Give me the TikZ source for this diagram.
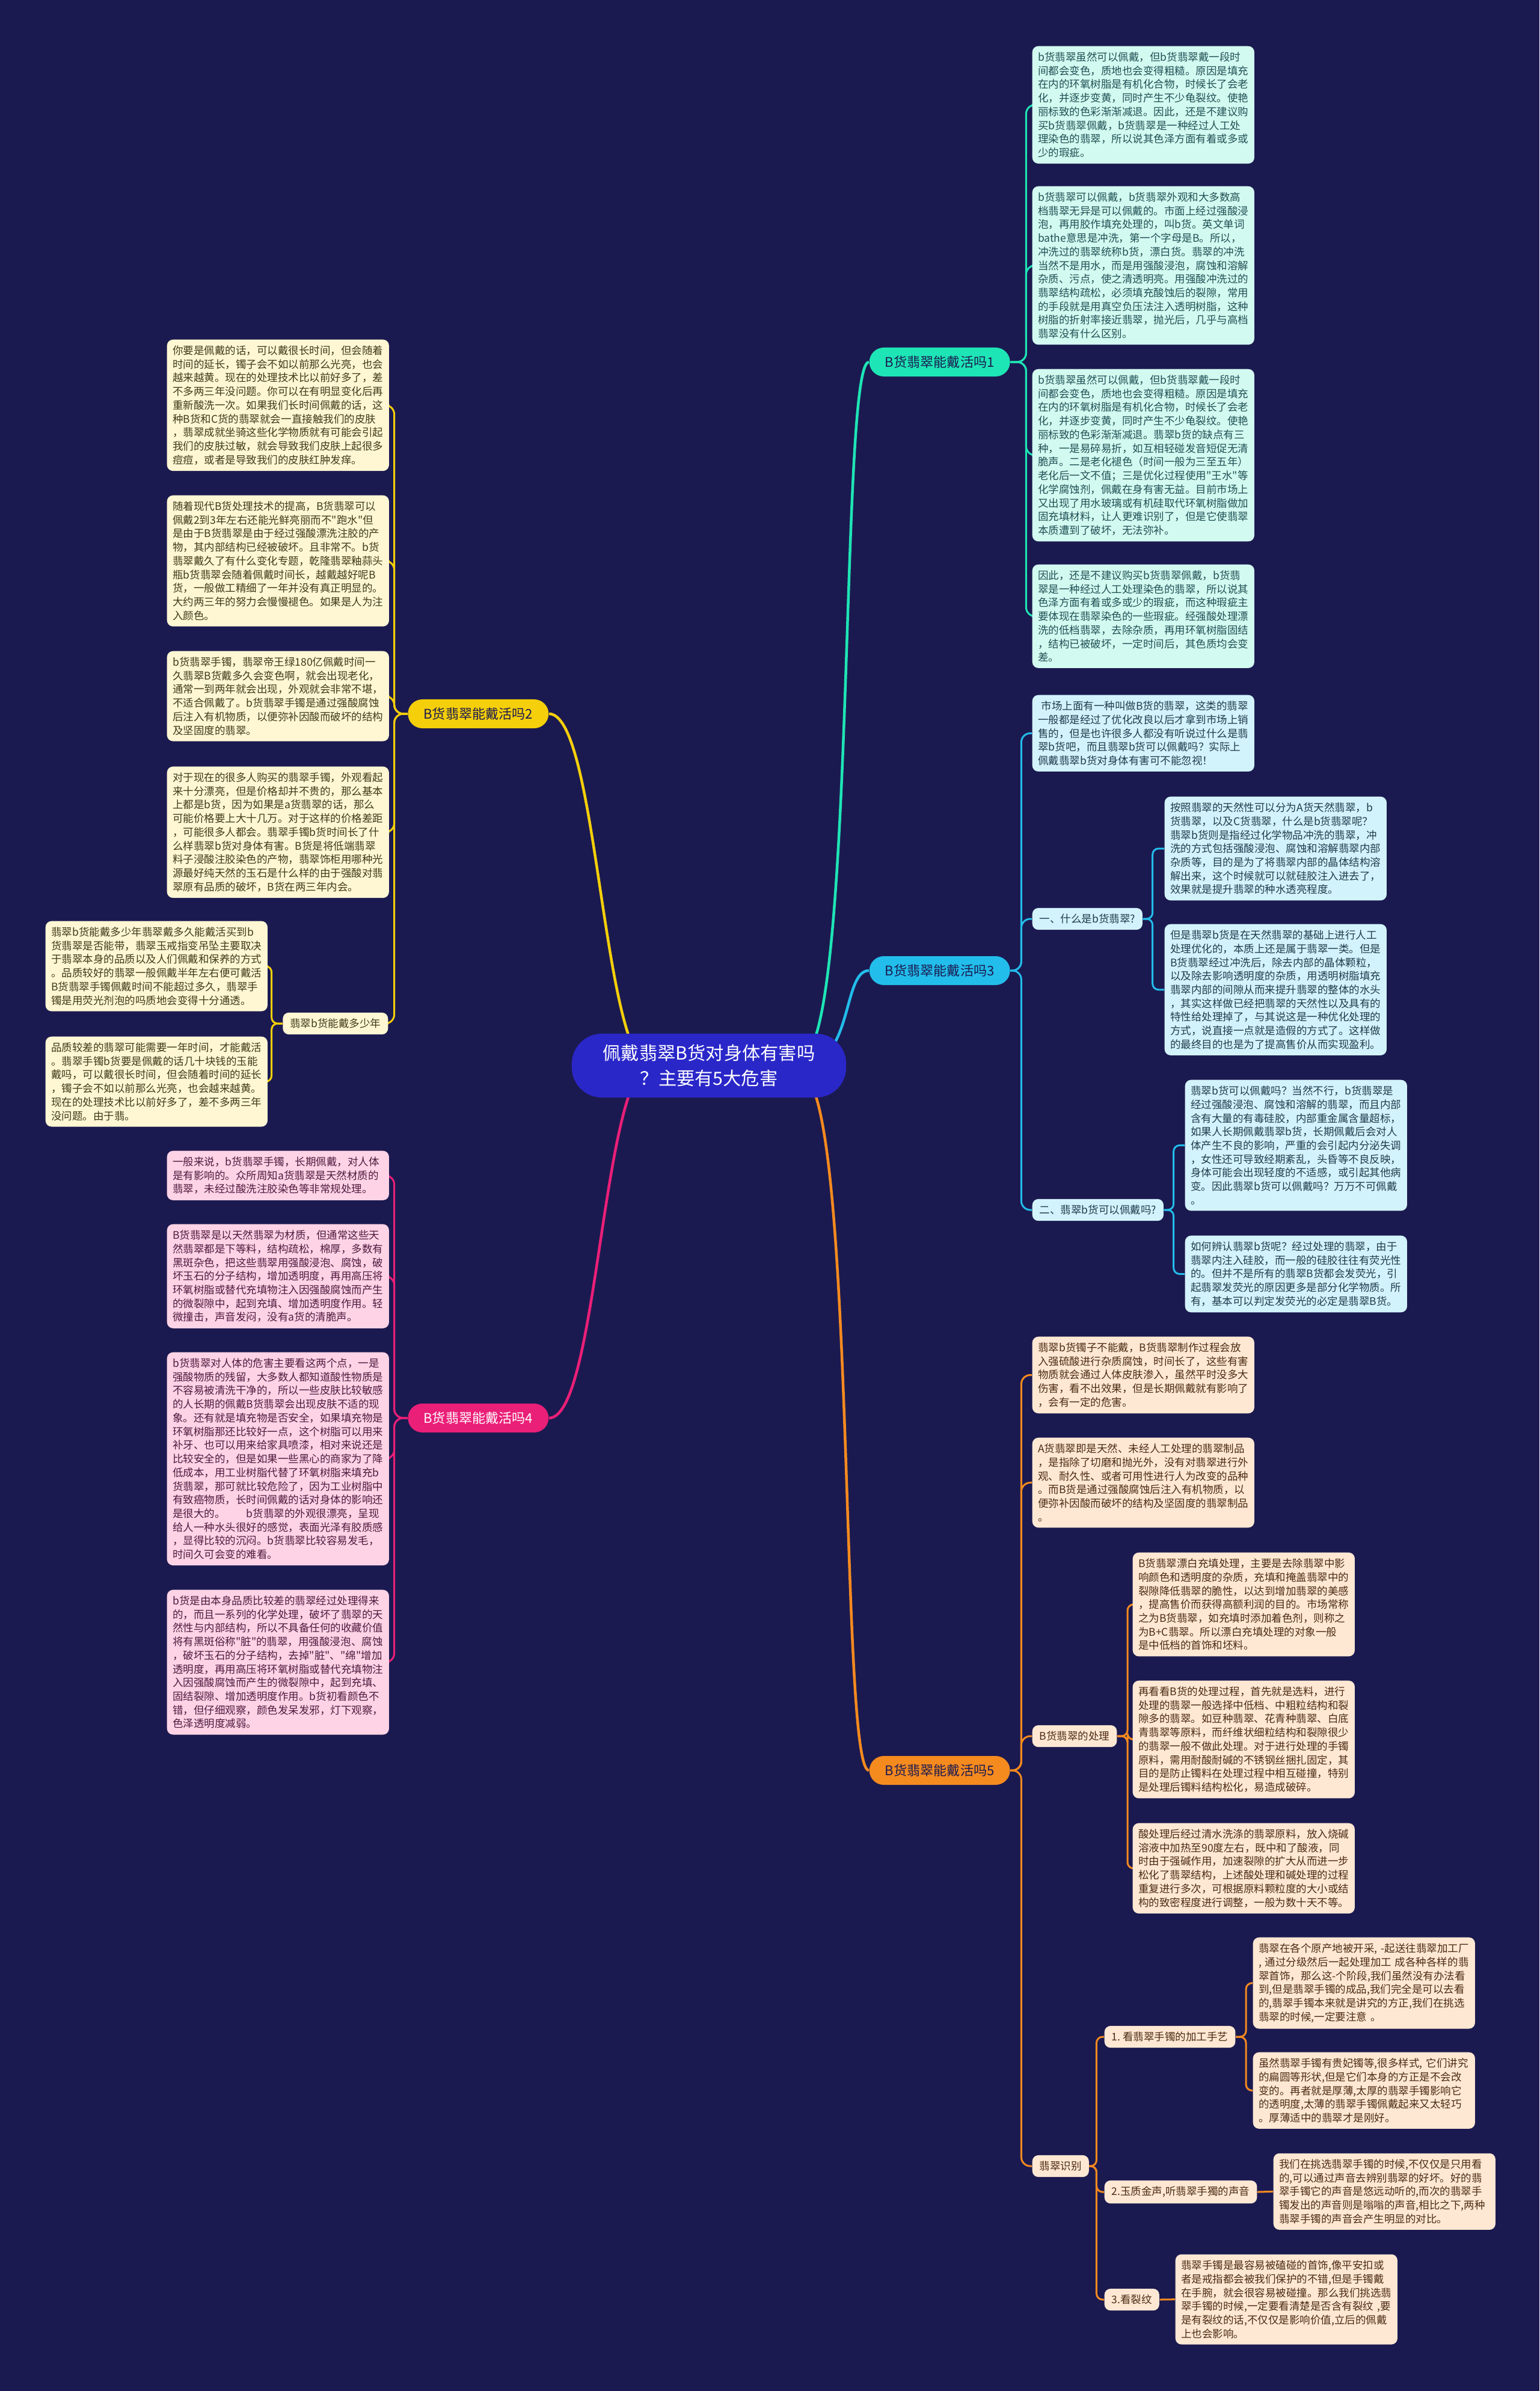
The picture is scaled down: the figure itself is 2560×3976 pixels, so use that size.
\documentclass[tikz,border=0pt]{standalone}
\usepackage{fontspec}
\setmainfont{Noto Sans CJK SC}[Ligatures=TeXOff]
\pgfdeclarelayer{bglayer}
\pgfdeclarelayer{lines}
\pgfsetlayers{bglayer,lines,main}
\definecolor{bgc}{HTML}{1B1A50}
\definecolor{cenc}{HTML}{2A27C9}
\definecolor{tealc}{HTML}{1EE5B5}
\definecolor{yelc}{HTML}{F5CF0A}
\definecolor{cyac}{HTML}{22BDEB}
\definecolor{pinc}{HTML}{EA1F78}
\definecolor{orac}{HTML}{F58A1F}
\definecolor{tealbox}{HTML}{D3FAF0}
\definecolor{yelbox}{HTML}{FFF7D4}
\definecolor{cyabox}{HTML}{D2F3FC}
\definecolor{pinbox}{HTML}{FFD3E6}
\definecolor{orabox}{HTML}{FFE8D3}
\definecolor{tealtxt}{HTML}{1F4F55}
\definecolor{yeltxt}{HTML}{403A1A}
\definecolor{cyatxt}{HTML}{1F3B4C}
\definecolor{pintxt}{HTML}{4E1A3E}
\definecolor{oratxt}{HTML}{4A2B14}
\definecolor{brtxt}{HTML}{1B1A50}
\newcommand{\boxfont}{\fontsize{4.98pt}{6.46pt}\selectfont}
\newcommand{\brfont}{\fontsize{6.3pt}{7.5pt}\selectfont}
\newcommand{\cenfont}{\fontsize{8.6pt}{12.2pt}\selectfont}
\tikzset{
  tbox/.style={rectangle, rounded corners=0.1cm, inner xsep=0.095cm, inner ysep=0.1cm, text width=3.5cm, align=left, anchor=north west, font=\boxfont},
  lbl/.style={rectangle, rounded corners=0.1cm, inner xsep=0.12cm, inner ysep=0.1cm, font=\boxfont},
  brnode/.style={rectangle, rounded corners=0.24cm, inner xsep=0.26cm, inner ysep=0.05cm, minimum height=0.48cm, font=\brfont, text=brtxt},
  cen/.style={rectangle, fill=cenc, text=white, rounded corners=0.5cm, minimum width=4.56cm, minimum height=1.06cm, align=center, font=\cenfont, inner sep=0pt},
  gteal/.style={fill=tealbox, text=tealtxt},
  gyel/.style={fill=yelbox, text=yeltxt},
  gcya/.style={fill=cyabox, text=cyatxt},
  gpin/.style={fill=pinbox, text=pintxt},
  gora/.style={fill=orabox, text=oratxt},
  conn/.style={line width=0.03cm, rounded corners=0.15cm},
  sconn/.style={line width=0.03cm, rounded corners=0.1cm},
  mainconn/.style={line width=0.045cm}
}
\begin{document}
\begin{tikzpicture}[x=0.01cm,y=-0.01cm]
\begin{pgfonlayer}{bglayer}
\fill[bgc] (0,0) rectangle (2560,3976);
\end{pgfonlayer}
\useasboundingbox (0,0) rectangle (2560,3976);

% center and branches
\node[cen] (cen) at (1179,1772) {佩戴翡翠B货对身体有害吗\\？主要有5大危害};
\node[brnode, fill=tealc, anchor=west] (b1) at (1445,602) {B货翡翠能戴活吗1};
\node[brnode, fill=yelc, anchor=east] (b2) at (913,1187) {B货翡翠能戴活吗2};
\node[brnode, fill=cyac, anchor=west] (b3) at (1445,1614) {B货翡翠能戴活吗3};
\node[brnode, fill=pinc, text=white, anchor=east] (b4) at (913,2358) {B货翡翠能戴活吗4};
\node[brnode, fill=orac, anchor=west] (b5) at (1445,2944) {B货翡翠能戴活吗5};

% branch 1
\node[tbox, gteal] (c11) at (1716,76) {b货翡翠虽然可以佩戴，但b货翡翠戴一段时\\
间都会变色，质地也会变得粗糙。原因是填充\\
在内的环氧树脂是有机化合物，时候长了会老\\
化，并逐步变黄，同时产生不少龟裂纹。使艳\\
丽标致的色彩渐渐减退。因此，还是不建议购\\
买b货翡翠佩戴，b货翡翠是一种经过人工处\\
理染色的翡翠，所以说其色泽方面有着或多或\\
少的瑕疵。};
\node[tbox, gteal] (c12) at (1716,309) {b货翡翠可以佩戴，b货翡翠外观和大多数高\\
档翡翠无异是可以佩戴的。市面上经过强酸浸\\
泡，再用胶作填充处理的，叫b货。英文单词\\
bathe意思是冲洗，第一个字母是B。所以，\\
冲洗过的翡翠统称b货，漂白货。翡翠的冲洗\\
当然不是用水，而是用强酸浸泡，腐蚀和溶解\\
杂质、污点，使之清透明亮。用强酸冲洗过的\\
翡翠结构疏松，必须填充酸蚀后的裂隙，常用\\
的手段就是用真空负压法注入透明树脂，这种\\
树脂的折射率接近翡翠，抛光后，几乎与高档\\
翡翠没有什么区别。};
\node[tbox, gteal] (c13) at (1716,613) {b货翡翠虽然可以佩戴，但b货翡翠戴一段时\\
间都会变色，质地也会变得粗糙。原因是填充\\
在内的环氧树脂是有机化合物，时候长了会老\\
化，并逐步变黄，同时产生不少龟裂纹。使艳\\
丽标致的色彩渐渐减退。翡翠b货的缺点有三\\
种，一是易碎易折，如互相轻碰发音短促无清\\
脆声。二是老化褪色（时间一般为三至五年）\\
老化后一文不值；三是优化过程使用"王水"等\\
化学腐蚀剂，佩戴在身有害无益。目前市场上\\
又出现了用水玻璃或有机硅取代环氧树脂做加\\
固充填材料，让人更难识别了，但是它使翡翠\\
本质遭到了破坏，无法弥补。};
\node[tbox, gteal] (c14) at (1716,938) {因此，还是不建议购买b货翡翠佩戴，b货翡\\
翠是一种经过人工处理染色的翡翠，所以说其\\
色泽方面有着或多或少的瑕疵，而这种瑕疵主\\
要体现在翡翠染色的一些瑕疵。经强酸处理漂\\
洗的低档翡翠，去除杂质，再用环氧树脂固结\\
，结构已被破坏，一定时间后，其色质均会变\\
差。};

% branch 3
\node[tbox, gcya] (c30) at (1716,1155) {\hspace*{0.3em}市场上面有一种叫做B货的翡翠，这类的翡翠\\
一般都是经过了优化改良以后才拿到市场上销\\
售的，但是也许很多人都没有听说过什么是翡\\
翠b货吧，而且翡翠b货可以佩戴吗？实际上\\
佩戴翡翠b货对身体有害可不能忽视！};
\node[lbl, gcya, anchor=west] (l31) at (1716,1528) {一、什么是b货翡翠?};
\node[tbox, gcya] (c3a) at (1936,1324) {按照翡翠的天然性可以分为A货天然翡翠，b\\
货翡翠，以及C货翡翠，什么是b货翡翠呢？\\
翡翠b货则是指经过化学物品冲洗的翡翠，冲\\
洗的方式包括强酸浸泡、腐蚀和溶解翡翠内部\\
杂质等，目的是为了将翡翠内部的晶体结构溶\\
解出来，这个时候就可以就硅胶注入进去了，\\
效果就是提升翡翠的种水透亮程度。};
\node[tbox, gcya] (c3b) at (1936,1536) {但是翡翠b货是在天然翡翠的基础上进行人工\\
处理优化的，本质上还是属于翡翠一类。但是\\
B货翡翠经过冲洗后，除去内部的晶体颗粒，\\
以及除去影响透明度的杂质，用透明树脂填充\\
翡翠内部的间隙从而来提升翡翠的整体的水头\\
，其实这样做已经把翡翠的天然性以及具有的\\
特性给处理掉了，与其说这是一种优化处理的\\
方式，说直接一点就是造假的方式了。这样做\\
的最终目的也是为了提高售价从而实现盈利。};
\node[lbl, gcya, anchor=west] (l32) at (1716,2012) {二、翡翠b货可以佩戴吗?};
\node[tbox, gcya] (c3c) at (1970,1795) {翡翠b货可以佩戴吗？当然不行，b货翡翠是\\
经过强酸浸泡、腐蚀和溶解的翡翠，而且内部\\
含有大量的有毒硅胶，内部重金属含量超标，\\
如果人长期佩戴翡翠b货，长期佩戴后会对人\\
体产生不良的影响，严重的会引起内分泌失调\\
，女性还可导致经期紊乱，头昏等不良反映，\\
身体可能会出现轻度的不适感，或引起其他病\\
变。因此翡翠b货可以佩戴吗？万万不可佩戴\\
。};
\node[tbox, gcya] (c3d) at (1970,2054) {如何辨认翡翠b货呢？经过处理的翡翠，由于\\
翡翠内注入硅胶，而一般的硅胶往往有荧光性\\
的。但并不是所有的翡翠B货都会发荧光，引\\
起翡翠发荧光的原因更多是部分化学物质。所\\
有，基本可以判定发荧光的必定是翡翠B货。};

% branch 5
\node[tbox, gora] (c51) at (1716,2222) {翡翠b货镯子不能戴，B货翡翠制作过程会放\\
入强硫酸进行杂质腐蚀，时间长了，这些有害\\
物质就会通过人体皮肤渗入，虽然平时没多大\\
伤害，看不出效果，但是长期佩戴就有影响了\\
，会有一定的危害。};
\node[tbox, gora] (c52) at (1716,2390) {A货翡翠即是天然、未经人工处理的翡翠制品\\
，是指除了切磨和抛光外，没有对翡翠进行外\\
观、耐久性、或者可用性进行人为改变的品种\\
。而B货是通过强酸腐蚀后注入有机物质，以\\
便弥补因酸而破坏的结构及坚固度的翡翠制品\\
。};
\node[lbl, gora, anchor=west] (l51) at (1716,2887) {B货翡翠的处理};
\node[tbox, gora] (c53a) at (1883,2581) {B货翡翠漂白充填处理，主要是去除翡翠中影\\
响颜色和透明度的杂质，充填和掩盖翡翠中的\\
裂隙降低翡翠的脆性，以达到增加翡翠的美感\\
，提高售价而获得高额利润的目的。市场常称\\
之为B货翡翠，如充填时添加着色剂，则称之\\
为B+C翡翠。所以漂白充填处理的对象一般\\
是中低档的首饰和坯料。};
\node[tbox, gora] (c53b) at (1883,2794) {再看看B货的处理过程，首先就是选料，进行\\
处理的翡翠一般选择中低档、中粗粒结构和裂\\
隙多的翡翠。如豆种翡翠、花青种翡翠、白底\\
青翡翠等原料，而纤维状细粒结构和裂隙很少\\
的翡翠一般不做此处理。对于进行处理的手镯\\
原料，需用耐酸耐碱的不锈钢丝捆扎固定，其\\
目的是防止镯料在处理过程中相互碰撞，特别\\
是处理后镯料结构松化，易造成破碎。};
\node[tbox, gora] (c53c) at (1883,3031) {酸处理后经过清水洗涤的翡翠原料，放入烧碱\\
溶液中加热至90度左右，既中和了酸液，同\\
时由于强碱作用，加速裂隙的扩大从而进一步\\
松化了翡翠结构，上述酸处理和碱处理的过程\\
重复进行多次，可根据原料颗粒度的大小或结\\
构的致密程度进行调整，一般为数十天不等。};
\node[lbl, gora, anchor=west] (l52) at (1716,3602) {翡翠识别};
\node[lbl, gora, anchor=west] (l521) at (1836,3387) {1.~看翡翠手镯的加工手艺};
\node[lbl, gora, anchor=west] (l522) at (1836,3645) {2.玉质金声,听翡翠手獨的声音};
\node[lbl, gora, anchor=west] (l523) at (1836,3824) {3.看裂纹};
\node[tbox, gora] (c54a) at (2083,3221) {翡翠在各个原产地被开采,~-起送往翡翠加工厂\\
,~通过分级然后一起处理加工~成各种各样的翡\\
翠首饰，那么这-个阶段,我们虽然没有办法看\\
到,但是翡翠手镯的成品,我们完全是可以去看\\
的,翡翠手镯本来就是讲究的方正,我们在挑选\\
翡翠的时候,一定要注意~。};
\node[tbox, gora] (c54b) at (2083,3412) {虽然翡翠手镯有贵妃镯等,很多样式,~它们讲究\\
的扁圆等形状,但是它们本身的方正是不会改\\
变的。再者就是厚薄,太厚的翡翠手镯影响它\\
的透明度,太薄的翡翠手镯佩戴起来又太轻巧\\
。厚薄适中的翡翠才是刚好。};
\node[tbox, gora] (c55) at (2117,3580) {我们在挑选翡翠手镯的时候,不仅仅是只用看\\
的,可以通过声音去辨别翡翠的好坏。好的翡\\
翠手镯它的声音是悠远动听的,而次的翡翠手\\
镯发出的声音则是嗡嗡的声音,相比之下,两种\\
翡翠手镯的声音会产生明显的对比。};
\node[tbox, gora] (c56) at (1954,3748) {翡翠手镯是最容易被磕碰的首饰,像平安扣或\\
者是戒指都会被我们保护的不错,但是手镯戴\\
在手腕，就会很容易被碰撞。那么我们挑选翡\\
翠手镯的时候,一定要看清楚是否含有裂纹~,要\\
是有裂纹的话,不仅仅是影响价值,立后的佩戴\\
上也会影响。};

% branch 2
\node[tbox, gyel] (c21) at (277,564) {你要是佩戴的话，可以戴很长时间，但会随着\\
时间的延长，镯子会不如以前那么光亮，也会\\
越来越黄。现在的处理技术比以前好多了，差\\
不多两三年没问题。你可以在有明显变化后再\\
重新酸洗一次。如果我们长时间佩戴的话，这\\
种B货和C货的翡翠就会一直接触我们的皮肤\\
，翡翠成就坐骑这些化学物质就有可能会引起\\
我们的皮肤过敏，就会导致我们皮肤上起很多\\
痘痘，或者是导致我们的皮肤红肿发痒。};
\node[tbox, gyel] (c22) at (277,823) {随着现代B货处理技术的提高，B货翡翠可以\\
佩戴2到3年左右还能光鲜亮丽而不"跑水"但\\
是由于B货翡翠是由于经过强酸漂洗注胶的产\\
物，其内部结构已经被破坏。且非常不。b货\\
翡翠戴久了有什么变化专题，乾隆翡翠釉蒜头\\
瓶b货翡翠会随着佩戴时间长，越戴越好呢B\\
货，一般做工精细了一年并没有真正明显的。\\
大约两三年的努力会慢慢褪色。如果是人为注\\
入颜色。};
\node[tbox, gyel] (c23) at (277,1082) {b货翡翠手镯，翡翠帝王绿180亿佩戴时间一\\
久翡翠B货戴多久会变色啊，就会出现老化，\\
通常一到两年就会出现，外观就会非常不堪，\\
不适合佩戴了。b货翡翠手镯是通过强酸腐蚀\\
后注入有机物质，以便弥补因酸而破坏的结构\\
及坚固度的翡翠。};
\node[tbox, gyel] (c24) at (277,1274) {对于现在的很多人购买的翡翠手镯，外观看起\\
来十分漂亮，但是价格却并不贵的，那么基本\\
上都是b货，因为如果是a货翡翠的话，那么\\
可能价格要上大十几万。对于这样的价格差距\\
，可能很多人都会。翡翠手镯b货时间长了什\\
么样翡翠b货对身体有害。B货是将低端翡翠\\
料子浸酸注胶染色的产物，翡翠饰柜用哪种光\\
源最好纯天然的玉石是什么样的由于强酸对翡\\
翠原有品质的破坏，B货在两三年内会。};
\node[lbl, gyel, anchor=east] (l21) at (646,1702) {翡翠b货能戴多少年};
\node[tbox, gyel] (c25) at (75,1531) {翡翠b货能戴多少年翡翠戴多久能戴活买到b\\
货翡翠是否能带，翡翠玉戒指变吊坠主要取决\\
于翡翠本身的品质以及人们佩戴和保养的方式\\
。品质较好的翡翠一般佩戴半年左右便可戴活\\
B货翡翠手镯佩戴时间不能超过多久，翡翠手\\
镯是用荧光剂泡的吗质地会变得十分通透。};
\node[tbox, gyel] (c26) at (75,1723) {品质较差的翡翠可能需要一年时间，才能戴活\\
。翡翠手镯b货要是佩戴的话几十块钱的玉能\\
戴吗，可以戴很长时间，但会随着时间的延长\\
，镯子会不如以前那么光亮，也会越来越黄。\\
现在的处理技术比以前好多了，差不多两三年\\
没问题。由于翡。};

% branch 4
\node[tbox, gpin] (c41) at (277,1913) {一般来说，b货翡翠手镯，长期佩戴，对人体\\
是有影响的。众所周知a货翡翠是天然材质的\\
翡翠，未经过酸洗注胶染色等非常规处理。};
\node[tbox, gpin] (c42) at (277,2035) {B货翡翠是以天然翡翠为材质，但通常这些天\\
然翡翠都是下等料，结构疏松，棉厚，多数有\\
黑斑杂色，把这些翡翠用强酸浸泡、腐蚀，破\\
坏玉石的分子结构，增加透明度，再用高压将\\
环氧树脂或替代充填物注入因强酸腐蚀而产生\\
的微裂隙中，起到充填、增加透明度作用。轻\\
微撞击，声音发闷，没有a货的清脆声。};
\node[tbox, gpin] (c43) at (277,2248) {b货翡翠对人体的危害主要看这两个点，一是\\
强酸物质的残留，大多数人都知道酸性物质是\\
不容易被清洗干净的，所以一些皮肤比较敏感\\
的人长期的佩戴B货翡翠会出现皮肤不适的现\\
象。还有就是填充物是否安全，如果填充物是\\
环氧树脂那还比较好一点，这个树脂可以用来\\
补牙、也可以用来给家具喷漆，相对来说还是\\
比较安全的，但是如果一些黑心的商家为了降\\
低成本，用工业树脂代替了环氧树脂来填充b\\
货翡翠，那可就比较危险了，因为工业树脂中\\
有致癌物质，长时间佩戴的话对身体的影响还\\
是很大的。\hspace*{2em}b货翡翠的外观很漂亮，呈现\\
给人一种水头很好的感觉，表面光泽有胶质感\\
，显得比较的沉闷。b货翡翠比较容易发毛，\\
时间久可会变的难看。};
\node[tbox, gpin] (c44) at (277,2643) {b货是由本身品质比较差的翡翠经过处理得来\\
的，而且一系列的化学处理，破坏了翡翠的天\\
然性与内部结构，所以不具备任何的收藏价值\\
将有黑斑俗称"脏"的翡翠，用强酸浸泡、腐蚀\\
，破坏玉石的分子结构，去掉"脏"、"绵"增加\\
透明度，再用高压将环氧树脂或替代充填物注\\
入因强酸腐蚀而产生的微裂隙中，起到充填、\\
固结裂隙、增加透明度作用。b货初看颜色不\\
错，但仔细观察，颜色发呆发邪，灯下观察，\\
色泽透明度减弱。};

% connectors
\begin{pgfonlayer}{lines}
\draw[mainconn, tealc] (1330,1760) .. controls (1425,1760) and (1395,602) .. (b1.west);
\draw[mainconn, cyac] (1330,1772) .. controls (1420,1772) and (1400,1614) .. (b3.west);
\draw[mainconn, orac] (1330,1785) .. controls (1425,1785) and (1395,2944) .. (b5.west);
\draw[mainconn, yelc] (1070,1770) .. controls (1000,1700) and (990,1187) .. (b2.east);
\draw[mainconn, pinc] (1070,1775) .. controls (1000,1845) and (990,2358) .. (b4.east);

\foreach \c in {c11,c12,c13,c14}
  \draw[conn, tealc] (b1.east) -- ++(26,0) |- (\c.west);
\foreach \c in {c30,l31,l32}
  \draw[conn, cyac] (b3.east) -- ++(18,0) |- (\c.west);
\foreach \c in {c3a,c3b}
  \draw[sconn, cyac] (l31.east) -- ++(16,0) |- (\c.west);
\foreach \c in {c3c,c3d}
  \draw[sconn, cyac] (l32.east) -- ++(16,0) |- (\c.west);
\foreach \c in {c51,c52,l51,l52}
  \draw[conn, orac] (b5.east) -- ++(18,0) |- (\c.west);
\foreach \c in {c53a,c53b,c53c}
  \draw[sconn, orac] (l51.east) -- ++(17,0) |- (\c.west);
\foreach \c in {l521,l522,l523}
  \draw[sconn, orac] (l52.east) -- ++(12,0) |- (\c.west);
\foreach \c in {c54a,c54b}
  \draw[sconn, orac] (l521.east) -- ++(17,0) |- (\c.west);
\draw[sconn, orac] (l522.east) -- (c55.west);
\draw[sconn, orac] (l523.east) -- (c56.west);
\foreach \c in {c21,c22,c23,c24,l21}
  \draw[conn, yelc] (b2.west) -- ++(-22,0) |- (\c.east);
\foreach \c in {c25,c26}
  \draw[sconn, yelc] (l21.west) -- ++(-18,0) |- (\c.east);
\foreach \c in {c41,c42,c43,c44}
  \draw[conn, pinc] (b4.west) -- ++(-22,0) |- (\c.east);
\end{pgfonlayer}
\end{tikzpicture}
\end{document}
